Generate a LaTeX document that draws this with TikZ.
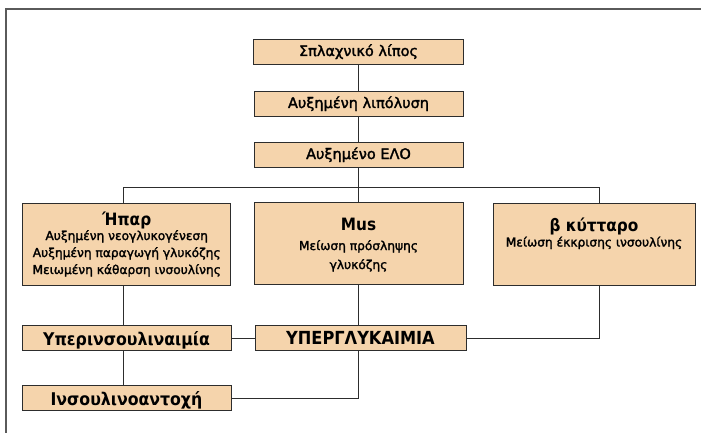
\documentclass[tikz,border=0pt]{standalone}
\usepackage{fontspec}
\setmainfont{DejaVu Sans}
\newfontfamily\boxfont{DejaVu Sans}[FakeBold=2]
\newfontfamily\condfont{DejaVu Sans Condensed}
\usetikzlibrary{positioning}
\definecolor{boxfill}{RGB}{245,212,172}
\definecolor{linegray}{RGB}{45,45,45}
\definecolor{framegray}{RGB}{90,90,90}
\tikzset{
  box/.style={draw=linegray,fill=boxfill,line width=0.9pt,inner sep=0pt,
    minimum height=25pt,text height=10pt,text depth=1pt,
    font=\boxfont\fontsize{14.5}{16}\selectfont},
  bigbox/.style={box,minimum height=82pt},
  lowbox/.style={box,text height=14pt,text depth=0pt,
    font=\condfont\bfseries\fontsize{17.5}{20}\selectfont},
  conn/.style={draw=linegray,line width=0.9pt},
  boxline/.style={inner sep=0pt,anchor=base,font=\boxfont\fontsize{12.2}{15}\selectfont},
  boxtitle/.style={inner sep=0pt,anchor=base,font=\condfont\bfseries\fontsize{17}{20}\selectfont},
}

\begin{document}
\begin{tikzpicture}[x=1pt,y=-1pt]
  \useasboundingbox (0,0) rectangle (701,433);
  % frame
  \draw[framegray,line width=1.6pt]
  (701,9)
  -- (6,9)
  -- (6,433);
  % boxes
  \node[box,minimum width=210pt] (lipos) at (358.5,51.5) {Σπλαχνικό λίπος};
  \node[box,minimum width=209pt] (lipol) at (358.5,103.5) {Αυξημένη λιπόλυση};
  \node[box,minimum width=209pt] (elo) at (358.5,154.5) {Αυξημένο ΕΛΟ};
  \node[bigbox,minimum width=208pt] (ipar) at (126.7,244) {};
  \node[bigbox,minimum width=209pt] (mus) at (358.5,243.5) {};
  \node[bigbox,minimum width=202pt] (beta) at (594,244) {};
  \node[lowbox,minimum width=209pt] (hyperins) at (126.5,338) {Υπερινσουλιναιμία};
  \node[lowbox,minimum width=211pt,text height=12pt,
    font=\condfont\bfseries\fontsize{18}{20}\selectfont] (hyperglyc) at (360.5,338) {ΥΠΕΡΓΛΥΚΑΙΜΙΑ};
  \node[lowbox,minimum width=209pt] (insres) at (126.5,398) {Ινσουλινοαντοχή};
  % texts of the big boxes
  \node[boxtitle] (ipartitle) at (126.7,225) {Ήπαρ};
  \node[boxline] (ipar1) at (126.7,240) {Αυξημένη νεογλυκογένεση};
  \node[boxline] (ipar2) at (126.7,257) {Αυξημένη παραγωγή γλυκόζης};
  \node[boxline] (ipar3) at (126.7,274) {Μειωμένη κάθαρση ινσουλίνης};
  \node[boxtitle] (mustitle) at (358.5,230) {Mus};
  \node[boxline] (mus1) at (358.5,250) {Μείωση πρόσληψης};
  \node[boxline] (mus2) at (358.5,269) {γλυκόζης};
  \node[boxtitle] (betatitle) at (594,231.5) {β κύτταρο};
  \node[boxline] (beta1) at (594,246.5) {Μείωση έκκρισης ινσουλίνης};
  % connectors
  \coordinate (busL) at (123,187);
  \coordinate (busR) at (599,187);
  \draw[conn] (lipos) -- (lipol);
  \draw[conn] (lipol) -- (elo);
  \draw[conn] (elo) -- (mus);
  \draw[conn]
  (ipar.north -| busL)
  -- (busL)
  -- (busR)
  -- (beta.north -| busR);
  \draw[conn] (ipar.south -| busL) -- (hyperins.north -| busL);
  \draw[conn] (hyperins.south -| busL) -- (insres.north -| busL);
  \draw[conn] (mus.south) -- (mus.south |- hyperglyc.north);
  \draw[conn] (hyperins) -- (hyperglyc);
  \draw[conn] (hyperglyc.east) -| (beta.south -| busR);
  \draw[conn] (hyperglyc.south -| mus.south) |- (insres.east);
\end{tikzpicture}
\end{document}
